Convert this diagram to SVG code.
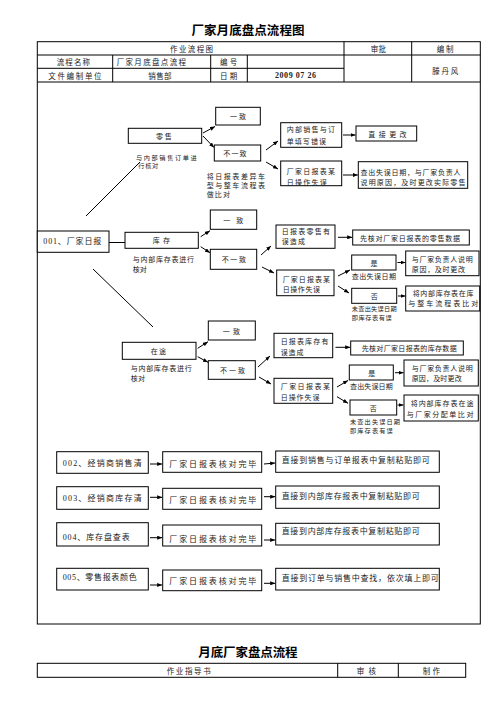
<svg xmlns="http://www.w3.org/2000/svg" width="496" height="702" viewBox="0 0 496 702">
<defs>
<marker id="ah" markerUnits="userSpaceOnUse" markerWidth="5" markerHeight="4" refX="5" refY="2" orient="auto">
<path d="M0,0 L5,2 L0,4 z" fill="#000"/>
</marker>
<style>
text{font-family:"Noto Sans CJK SC",sans-serif;font-size:7px;fill:#222;dominant-baseline:central}
.s{font-family:"Liberation Serif","Noto Sans CJK SC",serif}
.m{font-size:7.5px}
.l{font-size:8px}
.sm{font-size:6.2px}
.ti{font-size:12.5px;font-weight:bold;fill:#000}
.bx{fill:#fff;stroke:#000;stroke-width:1}
.fr{fill:none;stroke:#000;stroke-width:1}
.c{stroke:#000;stroke-width:1;fill:none}
.a{marker-end:url(#ah)}
</style>
</defs>
<rect width="496" height="702" fill="#fff"/>

<g id="title">
<text class="ti" x="191.5" y="29" textLength="113" lengthAdjust="spacing">厂家月底盘点流程图</text>
</g>

<g id="header-table">
<rect class="fr" x="37.3" y="41.7" width="443" height="582.3"/>
<line class="c" x1="37.3" y1="55" x2="480.3" y2="55"/>
<line class="c" x1="37.3" y1="68.3" x2="344" y2="68.3"/>
<line class="c" x1="37.3" y1="82" x2="480.3" y2="82"/>
<line class="c" x1="112.7" y1="55" x2="112.7" y2="82"/>
<line class="c" x1="210.7" y1="55" x2="210.7" y2="82"/>
<line class="c" x1="247.3" y1="55" x2="247.3" y2="82"/>
<line class="c" x1="344" y1="41.7" x2="344" y2="82"/>
<line class="c" x1="411.7" y1="41.7" x2="411.7" y2="82"/>
<text class="m" x="170" y="48.3" textLength="43" lengthAdjust="spacing">作业流程图</text>
<text class="m" x="370.7" y="48.3" textLength="15.3" lengthAdjust="spacing">审批</text>
<text class="m" x="436.7" y="48.3" textLength="16.7" lengthAdjust="spacing">编制</text>
<text class="m" x="56.7" y="61.7" textLength="33.3" lengthAdjust="spacing">流程名称</text>
<text class="m" x="116.7" y="61.7" textLength="69.3" lengthAdjust="spacing">厂家月底盘点流程</text>
<text class="m" x="220" y="61.7" textLength="17.3" lengthAdjust="spacing">编号</text>
<text class="m" x="432.3" y="70" textLength="26" lengthAdjust="spacing">滕丹风</text>
<text class="m" x="48.3" y="75.5" textLength="53.3" lengthAdjust="spacing">文件编制单位</text>
<text class="m" x="148.3" y="75.5" textLength="23.3" lengthAdjust="spacing">销售部</text>
<text class="m" x="220" y="75.5" textLength="17.3" lengthAdjust="spacing">日期</text>
<text class="s l" x="275" y="75.5" font-weight="bold" textLength="41" lengthAdjust="spacing">2009 07 26</text>
</g>

<g id="connectors">
<line class="c" x1="86" y1="216" x2="140" y2="162"/>
<line class="c" x1="109" y1="242.5" x2="125" y2="242.5"/>
<line class="c" x1="93" y1="269" x2="153" y2="327"/>
<line class="c a" x1="203" y1="133" x2="215" y2="126.5"/>
<line class="c a" x1="203" y1="136" x2="214" y2="147.5"/>
<line class="c a" x1="266" y1="150" x2="278" y2="141"/>
<line class="c a" x1="266" y1="162" x2="278" y2="169"/>
<line class="c a" x1="343" y1="135" x2="355.5" y2="135"/>
<line class="c a" x1="343" y1="175" x2="357.8" y2="175"/>
<line class="c a" x1="200.7" y1="236.7" x2="210" y2="230.7"/>
<line class="c a" x1="200.7" y1="246.7" x2="210" y2="252.7"/>
<line class="c a" x1="261" y1="255" x2="271" y2="246"/>
<line class="c a" x1="262" y1="267" x2="274" y2="273"/>
<line class="c a" x1="338" y1="237.3" x2="352.2" y2="237.3"/>
<line class="c a" x1="338" y1="276" x2="350" y2="270"/>
<line class="c a" x1="338" y1="286" x2="349" y2="293"/>
<line class="c a" x1="397.5" y1="262.5" x2="405.5" y2="262.5"/>
<line class="c a" x1="398" y1="296" x2="405.5" y2="296"/>
<line class="c a" x1="197.7" y1="348.3" x2="208" y2="341.7"/>
<line class="c a" x1="197.7" y1="356.7" x2="208" y2="362.3"/>
<line class="c a" x1="258" y1="367" x2="270" y2="356"/>
<line class="c a" x1="259" y1="377" x2="271" y2="384"/>
<line class="c a" x1="335.5" y1="347.3" x2="350.2" y2="347.3"/>
<line class="c a" x1="337" y1="387" x2="348" y2="380.5"/>
<line class="c a" x1="337" y1="396.7" x2="348" y2="403.3"/>
<line class="c a" x1="395" y1="372.7" x2="403.5" y2="372.7"/>
<line class="c a" x1="397.5" y1="405" x2="403.5" y2="405"/>
<line class="c a" x1="150" y1="464" x2="162.2" y2="464"/>
<line class="c a" x1="264" y1="464" x2="275.2" y2="463"/>
<line class="c a" x1="150" y1="497.3" x2="162.2" y2="497.3"/>
<line class="c a" x1="264" y1="496.7" x2="275.2" y2="496.7"/>
<line class="c a" x1="150" y1="537.7" x2="162.2" y2="537.7"/>
<line class="c a" x1="264" y1="540" x2="275.2" y2="540"/>
<line class="c a" x1="150" y1="585" x2="162.2" y2="585"/>
<line class="c a" x1="264" y1="583.3" x2="275.2" y2="583.3"/>
</g>

<g id="n001">
<rect class="bx" x="37.3" y="231" width="71.7" height="21.3"/>
<text class="s l" x="43.3" y="241.7" textLength="58" lengthAdjust="spacing">001、厂家日报</text>
</g>

<g id="retail">
<rect class="bx" x="128.3" y="128.3" width="73.4" height="15"/>
<text x="156" y="135.8" textLength="15.7" lengthAdjust="spacing">零售</text>
<text class="sm" x="136" y="157" textLength="60.7" lengthAdjust="spacing">与内部销售订单进</text>
<text class="sm" x="138.3" y="165.8" textLength="20" lengthAdjust="spacing">行核对</text>
</g>
<g id="retail-ok">
<rect class="bx" x="215.7" y="107.3" width="44.6" height="17.7"/>
<text x="230" y="116" textLength="16" lengthAdjust="spacing">一致</text>
</g>
<g id="retail-diff">
<rect class="bx" x="214.3" y="145" width="46.4" height="16"/>
<text x="223.3" y="153" textLength="23.3" lengthAdjust="spacing">不一致</text>
<text x="206.7" y="176" textLength="58.3" lengthAdjust="spacing">将日报表差异车</text>
<text x="206.7" y="185" textLength="58.3" lengthAdjust="spacing">型与整车流程表</text>
<text x="206.7" y="194" textLength="23.3" lengthAdjust="spacing">做比对</text>
</g>
<g id="retail-a1">
<rect class="bx" x="280.7" y="122.7" width="61" height="24.6"/>
<text x="286.7" y="129.3" textLength="48.3" lengthAdjust="spacing">内部销售与订</text>
<text x="286.7" y="140.7" textLength="39.3" lengthAdjust="spacing">单填写错误</text>
</g>
<g id="retail-a1r">
<rect class="bx" x="356" y="126" width="60.7" height="15"/>
<text x="368.3" y="133.5" textLength="38.3" lengthAdjust="spacing">直接更改</text>
</g>
<g id="retail-a2">
<rect class="bx" x="280.7" y="161" width="61" height="24.7"/>
<text x="286.7" y="171" textLength="48.3" lengthAdjust="spacing">厂家日报表某</text>
<text x="286.7" y="182.3" textLength="40" lengthAdjust="spacing">日操作失误</text>
</g>
<g id="retail-a2r">
<rect class="bx" x="358.3" y="161.7" width="109.4" height="26.6"/>
<text x="360.5" y="171.7" textLength="100" lengthAdjust="spacing">查出失误日期，与厂家负责人</text>
<text x="360.5" y="182.3" textLength="105" lengthAdjust="spacing">说明原因，及时更改实际零售</text>
</g>

<g id="stock">
<rect class="bx" x="125" y="232.3" width="73.3" height="16"/>
<text x="152.7" y="240.3" textLength="17.3" lengthAdjust="spacing">库存</text>
<text x="132.7" y="259.3" textLength="61.3" lengthAdjust="spacing">与内部库存表进行</text>
<text x="132.7" y="269.3" textLength="14" lengthAdjust="spacing">核对</text>
</g>
<g id="stock-ok">
<rect class="bx" x="210.3" y="210" width="46.4" height="19.3"/>
<text x="223.3" y="219.7" textLength="20" lengthAdjust="spacing">一致</text>
</g>
<g id="stock-diff">
<rect class="bx" x="210.3" y="249.3" width="46.4" height="20"/>
<text x="221.7" y="259.3" textLength="24.3" lengthAdjust="spacing">不一致</text>
</g>
<g id="stock-b1">
<rect class="bx" x="276" y="225" width="59" height="23.3"/>
<text x="281.7" y="230.5" textLength="48.3" lengthAdjust="spacing">日报表零售有</text>
<text x="281.7" y="241" textLength="23.3" lengthAdjust="spacing">误造成</text>
</g>
<g id="stock-b1r">
<rect class="bx" x="352.7" y="230" width="116.6" height="15"/>
<text x="360" y="237.5" textLength="100" lengthAdjust="spacing">先核对厂家日报表的零售数据</text>
</g>
<g id="stock-b2">
<rect class="bx" x="276.7" y="270" width="57.3" height="25.7"/>
<text x="282.7" y="279.3" textLength="47.3" lengthAdjust="spacing">厂家日报表某</text>
<text x="282.7" y="289.3" textLength="37.3" lengthAdjust="spacing">日操作失误</text>
</g>
<g id="stock-yes">
<rect class="bx" x="351.7" y="255" width="44.3" height="15"/>
<text x="370.5" y="262.5">是</text>
<text x="351.7" y="276" textLength="44.3" lengthAdjust="spacing">查出失误日期</text>
</g>
<g id="stock-no">
<rect class="bx" x="351.7" y="288.3" width="45" height="15"/>
<text x="370.8" y="295.8">否</text>
<text class="sm" x="351.7" y="308.6" textLength="45" lengthAdjust="spacing">未查出失误日期</text>
<text class="sm" x="351.7" y="317.4" textLength="40" lengthAdjust="spacing">即库存表有误</text>
</g>
<g id="stock-yes-r">
<rect class="bx" x="405.7" y="251" width="73.3" height="24.7"/>
<text x="411.7" y="259.3" textLength="61" lengthAdjust="spacing">与厂家负责人说明</text>
<text x="411.7" y="269.3" textLength="53.3" lengthAdjust="spacing">原因，及时更改</text>
</g>
<g id="stock-no-r">
<rect class="bx" x="405.7" y="286" width="74" height="25"/>
<text x="412.7" y="292.7" textLength="60.7" lengthAdjust="spacing">将内部库存表在库</text>
<text x="408.3" y="303.3" textLength="70" lengthAdjust="spacing">与整车流程表比对</text>
</g>

<g id="transit">
<rect class="bx" x="122.3" y="342.3" width="73.7" height="17"/>
<text x="150.7" y="350.8" textLength="15.3" lengthAdjust="spacing">在途</text>
<text x="130.7" y="368.3" textLength="61" lengthAdjust="spacing">与内部库存表进行</text>
<text x="130.7" y="378.3" textLength="14.3" lengthAdjust="spacing">核对</text>
</g>
<g id="transit-ok">
<rect class="bx" x="208.3" y="321" width="47" height="19"/>
<text x="222.7" y="330.5" textLength="17.3" lengthAdjust="spacing">一致</text>
</g>
<g id="transit-diff">
<rect class="bx" x="208.3" y="360.7" width="47" height="18.6"/>
<text x="220" y="370" textLength="25" lengthAdjust="spacing">不一致</text>
</g>
<g id="transit-c1">
<rect class="bx" x="274" y="333.3" width="58.7" height="24.4"/>
<text x="280.7" y="341" textLength="47.7" lengthAdjust="spacing">日报表库存有</text>
<text x="280.7" y="351.7" textLength="22.7" lengthAdjust="spacing">误造成</text>
</g>
<g id="transit-c1r">
<rect class="bx" x="350.7" y="341" width="112.6" height="14"/>
<text x="361.7" y="348" textLength="95" lengthAdjust="spacing">先核对厂家日报表的库存数据</text>
</g>
<g id="transit-c2">
<rect class="bx" x="274" y="378.3" width="58.7" height="25"/>
<text x="280.7" y="386" textLength="49.3" lengthAdjust="spacing">厂家日报表某</text>
<text x="280.7" y="396.7" textLength="38.7" lengthAdjust="spacing">日操作失误</text>
</g>
<g id="transit-yes">
<rect class="bx" x="349.3" y="365" width="44" height="15"/>
<text x="368.2" y="372.5">是</text>
<text x="350" y="386" textLength="42.7" lengthAdjust="spacing">查出失误日期</text>
</g>
<g id="transit-no">
<rect class="bx" x="350" y="400" width="46.7" height="15"/>
<text x="369.8" y="407.5">否</text>
<text class="sm" x="350" y="421.4" textLength="50" lengthAdjust="spacing">未查出失误日期</text>
<text class="sm" x="350" y="430.2" textLength="42.7" lengthAdjust="spacing">即库存表有误</text>
</g>
<g id="transit-yes-r">
<rect class="bx" x="404" y="360" width="74.3" height="26"/>
<text x="411.7" y="368.3" textLength="61" lengthAdjust="spacing">与厂家负责人说明</text>
<text x="411.7" y="378.3" textLength="50" lengthAdjust="spacing">原因，及时更改</text>
</g>
<g id="transit-no-r">
<rect class="bx" x="404" y="395" width="74.3" height="26"/>
<text x="410.7" y="403.3" textLength="62.7" lengthAdjust="spacing">将内部库存表在途</text>
<text x="406.7" y="414" textLength="66.7" lengthAdjust="spacing">与厂家分配单比对</text>
</g>

<g id="n002">
<rect class="bx" x="56.7" y="451.7" width="91.6" height="21.6"/>
<text class="s l" x="62.7" y="463.3" textLength="79" lengthAdjust="spacing">002、经销商销售清</text>
</g>
<g id="n002b">
<rect class="bx" x="162.7" y="451.7" width="99" height="20.6"/>
<text class="l" x="169.3" y="463.3" textLength="87" lengthAdjust="spacing">厂家日报表核对完毕</text>
</g>
<g id="n002c">
<rect class="bx" x="275.7" y="451" width="163.6" height="21.3"/>
<text class="l" x="281.7" y="459.3" textLength="148" lengthAdjust="spacing">直接到销售与订单报表中复制粘贴即可</text>
</g>

<g id="n003">
<rect class="bx" x="56.7" y="486.7" width="91.6" height="22.6"/>
<text class="s l" x="62.7" y="498.3" textLength="79" lengthAdjust="spacing">003、经销商库存清</text>
</g>
<g id="n003b">
<rect class="bx" x="162.7" y="488.3" width="99" height="21"/>
<text class="l" x="169.3" y="499.3" textLength="87" lengthAdjust="spacing">厂家日报表核对完毕</text>
</g>
<g id="n003c">
<rect class="bx" x="275.7" y="486" width="163.6" height="22.3"/>
<text class="l" x="281.7" y="495" textLength="138" lengthAdjust="spacing">直接到内部库存报表中复制粘贴即可</text>
</g>

<g id="n004">
<rect class="bx" x="56.7" y="522.7" width="91.6" height="23.3"/>
<text class="s l" x="62.7" y="537.5" textLength="67" lengthAdjust="spacing">004、库存盘查表</text>
</g>
<g id="n004b">
<rect class="bx" x="162.7" y="525" width="99" height="21"/>
<text class="l" x="169.3" y="538.5" textLength="87" lengthAdjust="spacing">厂家日报表核对完毕</text>
</g>
<g id="n004c">
<rect class="bx" x="275.7" y="523.3" width="163.6" height="21.7"/>
<text class="l" x="281.7" y="530.5" textLength="138" lengthAdjust="spacing">直接到内部库存报表中复制粘贴即可</text>
</g>

<g id="n005">
<rect class="bx" x="56.7" y="568.3" width="91.6" height="21.7"/>
<text class="s l" x="62.7" y="577" textLength="74" lengthAdjust="spacing">005、零售报表颜色</text>
</g>
<g id="n005b">
<rect class="bx" x="162.7" y="570" width="99" height="20.7"/>
<text class="l" x="169.3" y="580.5" textLength="87" lengthAdjust="spacing">厂家日报表核对完毕</text>
</g>
<g id="n005c">
<rect class="bx" x="275.7" y="568.3" width="163.6" height="21.7"/>
<text class="l" x="281.7" y="577" textLength="157" lengthAdjust="spacing">直接到订单与销售中查找，依次填上即可</text>
</g>

<g id="footer">
<text class="ti" x="198.3" y="651" textLength="99.3" lengthAdjust="spacing">月底厂家盘点流程</text>
<rect class="fr" x="37.3" y="663.3" width="428.4" height="14"/>
<line class="c" x1="337.7" y1="663.3" x2="337.7" y2="677.3"/>
<line class="c" x1="398.3" y1="663.3" x2="398.3" y2="677.3"/>
<text class="m" x="166.7" y="670.3" textLength="44" lengthAdjust="spacing">作业指导书</text>
<text class="m" x="356.7" y="670.3" textLength="19.3" lengthAdjust="spacing">审核</text>
<text class="m" x="422.7" y="670.3" textLength="17.3" lengthAdjust="spacing">制作</text>
</g>
</svg>
